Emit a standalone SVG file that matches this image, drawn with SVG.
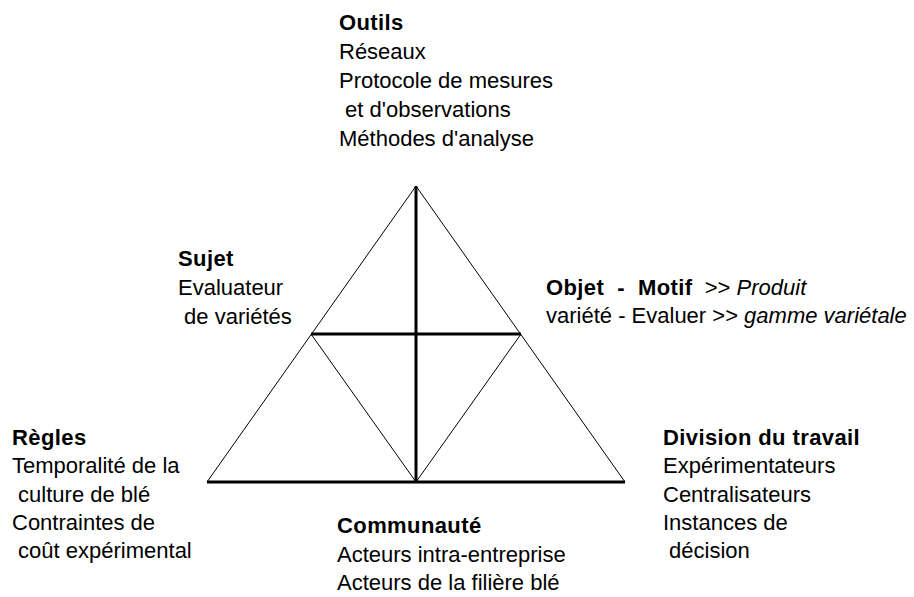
<svg xmlns="http://www.w3.org/2000/svg" width="914" height="597" viewBox="0 0 914 597">
<style>
text{font-family:"Liberation Sans",Arial,sans-serif;font-size:22px;fill:#000}
.b{font-weight:bold;letter-spacing:0.4px}
.i{font-style:italic}
.thin{stroke:#000;stroke-width:1;fill:none}
.thick{stroke:#000;stroke-width:3;fill:none}
</style>
<rect width="914" height="597" fill="#fff"/>
<g id="connectors">
<line class="thin" x1="416" y1="186" x2="207" y2="482"/>
<line class="thin" x1="416" y1="186" x2="625" y2="482"/>
<line class="thin" x1="311" y1="334" x2="416" y2="482"/>
<line class="thin" x1="521" y1="334" x2="416" y2="482"/>
<line class="thick" x1="416" y1="186" x2="416" y2="482"/>
<line class="thick" x1="311" y1="334" x2="521" y2="334"/>
<line class="thick" x1="207" y1="482" x2="625" y2="482"/>
</g>
<g id="outils">
<text class="b" x="339" y="30">Outils</text>
<text x="339" y="59">Réseaux</text>
<text x="339" y="88">Protocole de mesures</text>
<text x="339" y="117" xml:space="preserve"> et d'observations</text>
<text x="339" y="146">Méthodes d'analyse</text>
</g>
<g id="sujet">
<text class="b" x="178" y="266">Sujet</text>
<text x="178" y="295">Evaluateur</text>
<text x="178" y="324" xml:space="preserve"> de variétés</text>
</g>
<g id="objet">
<text x="546" y="295" xml:space="preserve"><tspan class="b">Objet  -  Motif</tspan>  &gt;&gt; <tspan class="i">Produit</tspan></text>
<text x="546" y="323" xml:space="preserve">variété - Evaluer &gt;&gt; <tspan class="i">gamme variétale</tspan></text>
</g>
<g id="regles">
<text class="b" x="12" y="445">Règles</text>
<text x="12" y="473">Temporalité de la</text>
<text x="12" y="502" xml:space="preserve"> culture de blé</text>
<text x="12" y="530">Contraintes de</text>
<text x="12" y="558" xml:space="preserve"> coût expérimental</text>
</g>
<g id="communaute">
<text class="b" x="337" y="533">Communauté</text>
<text x="337" y="562">Acteurs intra-entreprise</text>
<text x="337" y="590">Acteurs de la filière blé</text>
</g>
<g id="division">
<text class="b" x="663" y="445">Division du travail</text>
<text x="663" y="473">Expérimentateurs</text>
<text x="663" y="502">Centralisateurs</text>
<text x="663" y="530">Instances de</text>
<text x="663" y="558" xml:space="preserve"> décision</text>
</g>
</svg>
